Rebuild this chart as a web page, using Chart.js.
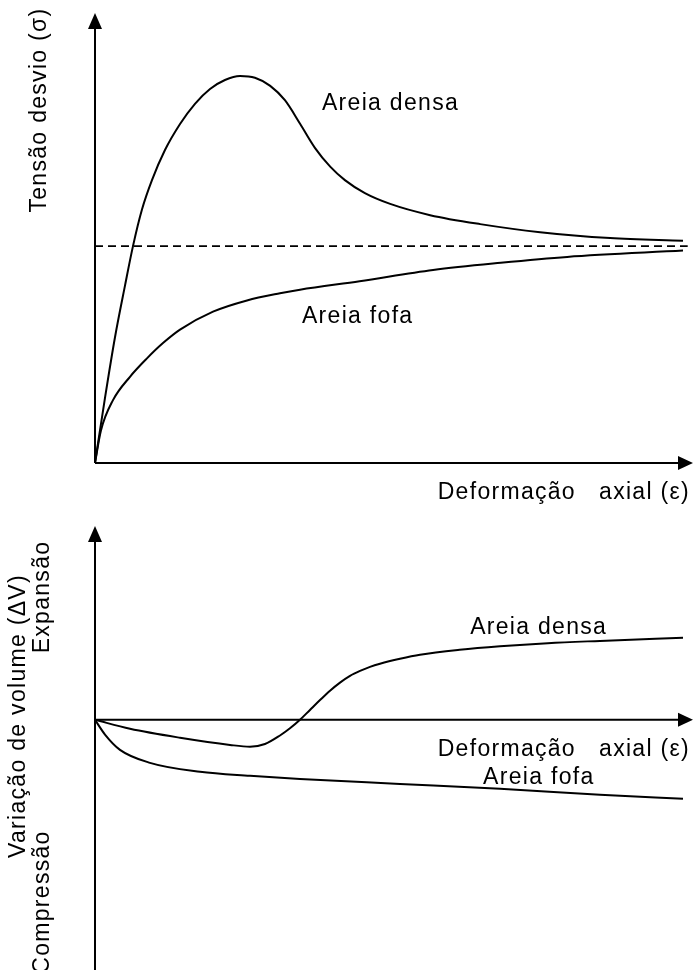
<!DOCTYPE html>
<html>
<head>
<meta charset="utf-8">
<script src="https://cdn.jsdelivr.net/npm/chart.js@4/dist/chart.umd.min.js"></script>
<style>
  html, body { margin: 0; padding: 0; background: #fff; }
  #wrap { position: relative; width: 693px; height: 970px; overflow: hidden; }
  .panel { position: absolute; left: 0; width: 693px; }
  #stressPanel { top: 0; height: 520px; }
  #volumePanel { top: 500px; height: 470px; }
</style>
</head>
<body>
<div id="wrap">
  <div class="panel" id="stressPanel"><canvas id="stressChart"></canvas></div>
  <div class="panel" id="volumePanel"><canvas id="volumeChart"></canvas></div>
</div>
<script>
// Tensão desvio x deformação axial
const denseStrain  = [0, 0.17, 0.34, 0.51, 0.646, 0.80, 0.969, 1.19, 1.446, 1.70, 1.956, 2.21, 2.466, 2.72, 2.98, 3.23, 3.49, 3.74, 4.00, 4.25, 4.59, 5.02, 5.70, 6.55, 7.57, 8.76, 10];
const denseStress  = [0, 1.45, 2.80, 3.95, 4.83, 5.65, 6.30, 6.97, 7.55, 8.00, 8.33, 8.53, 8.62, 8.58, 8.40, 8.08, 7.55, 7.02, 6.60, 6.30, 6.01, 5.77, 5.52, 5.32, 5.14, 5.01, 4.95];
const looseStrain  = [0, 0.10, 0.306, 0.595, 0.884, 1.156, 1.446, 2.007, 2.585, 3.146, 3.486, 4.50, 5.75, 6.90, 8.03, 10];
const looseStress  = [0, 0.72, 1.40, 1.92, 2.33, 2.67, 2.97, 3.37, 3.62, 3.78, 3.86, 4.05, 4.30, 4.46, 4.59, 4.73];
const residualStress = 4.83;
const residualSpan = [0, 10.08];

// Variação de volume x deformação axial
const denseVolStrain = [0, 0.595, 1.446, 2.296, 2.636, 2.891, 3.146, 3.316, 3.486, 3.656, 3.827, 3.997, 4.167, 4.337, 4.507, 4.677, 4.847, 5.187, 5.527, 6.20, 6.888, 7.70, 8.588, 10];
const denseVolume    = [0, -0.20, -0.40, -0.56, -0.60, -0.54, -0.35, -0.19, 0, 0.22, 0.44, 0.65, 0.83, 0.98, 1.09, 1.18, 1.25, 1.36, 1.45, 1.56, 1.64, 1.71, 1.76, 1.83];
const looseVolStrain = [0, 0.17, 0.425, 0.935, 1.786, 2.636, 3.486, 5.187, 6.888, 8.588, 10];
const looseVolume    = [0, -0.33, -0.67, -0.96, -1.16, -1.25, -1.32, -1.43, -1.54, -1.67, -1.76];

const FONT = '23px "Liberation Sans", Arial, sans-serif';
const SPACING = '1.3px';

function toPoints(xs, ys) {
  return xs.map((x, i) => ({ x, y: ys[i] }));
}

function curve(data, dash) {
  return {
    data,
    borderColor: '#000',
    borderWidth: dash ? 1.6 : 2,
    borderDash: dash || [],
    pointRadius: 0,
    fill: false,
    cubicInterpolationMode: 'monotone',
    clip: false
  };
}

function drawText(ctx, text, x, y, align, rotate) {
  ctx.save();
  ctx.font = FONT;
  ctx.letterSpacing = SPACING;
  ctx.fillStyle = '#000';
  ctx.textBaseline = 'middle';
  ctx.textAlign = align || 'left';
  ctx.translate(x, y);
  if (rotate) ctx.rotate(-Math.PI / 2);
  ctx.fillText(text, 0, 0);
  ctx.restore();
}

// axes with arrow heads, drawn from the scales' zero lines
const arrowAxes = {
  id: 'arrowAxes',
  beforeDatasetsDraw(chart) {
    const { ctx, scales: { x, y }, width, height } = chart;
    const ox = x.getPixelForValue(0);
    const oy = y.getPixelForValue(0);
    const top = chart.chartArea.top;
    ctx.save();
    ctx.strokeStyle = '#000';
    ctx.fillStyle = '#000';
    ctx.lineWidth = 2;
    ctx.beginPath();
    ctx.moveTo(ox, chart.options.axisBottom === 'canvas' ? height : oy);
    ctx.lineTo(ox, top + 12);
    ctx.moveTo(ox, oy);
    ctx.lineTo(width - 12, oy);
    ctx.stroke();
    // y arrow
    ctx.beginPath();
    ctx.moveTo(ox, top - 1);
    ctx.lineTo(ox - 7, top + 15);
    ctx.lineTo(ox + 7, top + 15);
    ctx.closePath();
    ctx.fill();
    // x arrow
    ctx.beginPath();
    ctx.moveTo(width, oy);
    ctx.lineTo(width - 15, oy - 7);
    ctx.lineTo(width - 15, oy + 7);
    ctx.closePath();
    ctx.fill();
    ctx.restore();
  }
};

const labels = {
  id: 'labels',
  afterDraw(chart, args, opts) {
    const { ctx, scales: { x, y } } = chart;
    (opts.curves || []).forEach(l => drawText(ctx, l.text, x.getPixelForValue(l.x), y.getPixelForValue(l.y), 'left'));
    (opts.titles || []).forEach(t => drawText(ctx, t.text, t.px, t.py, t.align, t.rotate));
  }
};

function baseOptions(yMin, yMax, padding) {
  return {
    responsive: true,
    maintainAspectRatio: false,
    animation: false,
    events: [],
    layout: { padding },
    plugins: { legend: { display: false }, tooltip: { enabled: false } },
    scales: {
      x: { type: 'linear', min: 0, max: 10, display: false },
      y: { type: 'linear', min: yMin, max: yMax, display: false }
    }
  };
}

const stressOpts = baseOptions(0, 10, { left: 95, right: 10, top: 14, bottom: 57 });
stressOpts.plugins.labels = {
  curves: [
    { text: 'Areia densa', x: 3.86, y: 8.0 },
    { text: 'Areia fofa', x: 3.52, y: 3.27 }
  ],
  titles: [
    { text: 'Deformação   axial (ε)', px: 690, py: 493, align: 'right' },
    { text: 'Tensão desvio (σ)', px: 40, py: 110, align: 'center', rotate: true }
  ]
};

new Chart(document.getElementById('stressChart'), {
  type: 'line',
  data: {
    datasets: [
      curve(toPoints(denseStrain, denseStress)),
      curve(toPoints(looseStrain, looseStress)),
      curve(toPoints(residualSpan, [residualStress, residualStress]), [8, 5])
    ]
  },
  options: stressOpts,
  plugins: [arrowAxes, labels]
});

const volumeOpts = baseOptions(-5.58, 4.3, { left: 95, right: 10, top: 27, bottom: 0 });
volumeOpts.axisBottom = 'canvas';
volumeOpts.plugins.labels = {
  curves: [
    { text: 'Areia densa', x: 6.38, y: 2.05 },
    { text: 'Areia fofa', x: 6.6, y: -1.29 }
  ],
  titles: [
    { text: 'Deformação   axial (ε)', px: 690, py: 250, align: 'right' },
    { text: 'Variação de volume (ΔV)', px: 19, py: 216, align: 'center', rotate: true },
    { text: 'Expansão', px: 43, py: 97, align: 'center', rotate: true },
    { text: 'Compressão', px: 43, py: 402, align: 'center', rotate: true }
  ]
};

new Chart(document.getElementById('volumeChart'), {
  type: 'line',
  data: {
    datasets: [
      curve(toPoints(denseVolStrain, denseVolume)),
      curve(toPoints(looseVolStrain, looseVolume))
    ]
  },
  options: volumeOpts,
  plugins: [arrowAxes, labels]
});
</script>
</body>
</html>
